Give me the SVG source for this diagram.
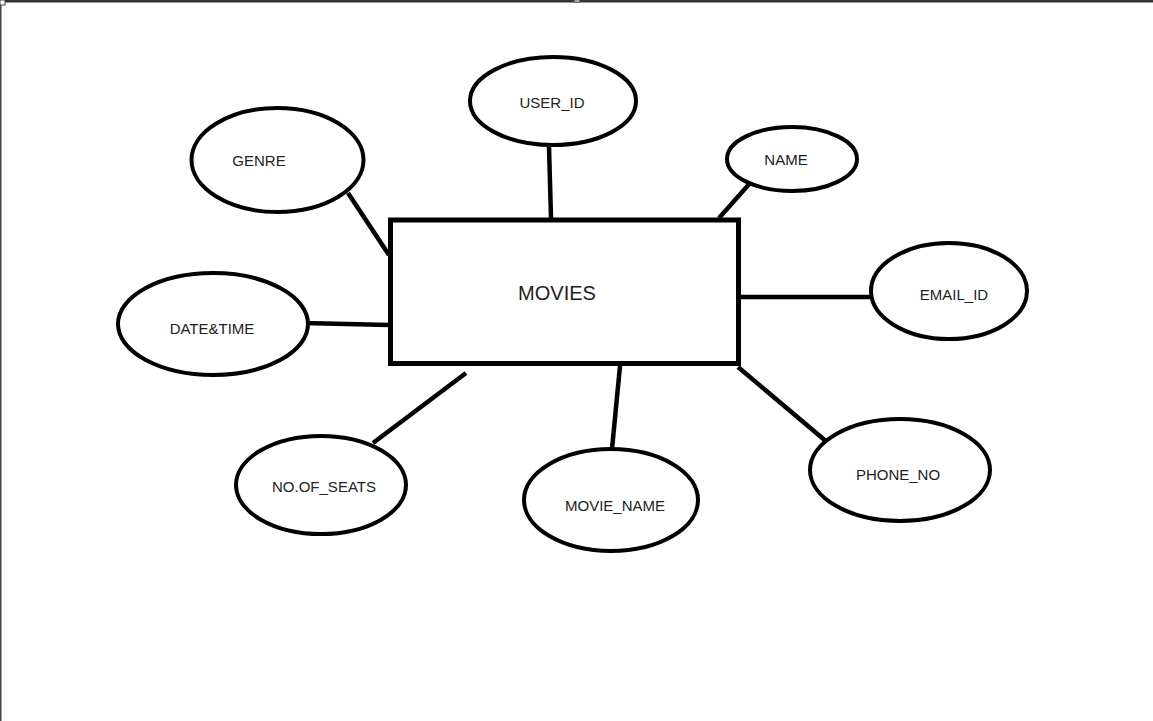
<svg xmlns="http://www.w3.org/2000/svg" width="1153" height="721" viewBox="0 0 1153 721">
<style>
.attr{fill:#fff;stroke:#000;stroke-width:4}
.lbl{font-family:"Liberation Sans",Arial,sans-serif;font-size:15px;fill:#222;text-anchor:middle}
.conn line{stroke:#000;stroke-width:4.5;stroke-linecap:butt}
</style>
<rect x="0" y="0" width="1153" height="721" fill="#fff"/>
<line x1="0" y1="1" x2="1153" y2="1" stroke="#333" stroke-width="3"/>
<line x1="0.5" y1="0" x2="0.5" y2="721" stroke="#444" stroke-width="2"/>
<rect x="0" y="0" width="5" height="5" fill="#fff" stroke="#444" stroke-width="1"/>
<rect x="574" y="0" width="6" height="2" fill="#fff" stroke="#444" stroke-width="1"/>
<g id="connectors" class="conn">
<line x1="348" y1="193" x2="389" y2="255"/>
<line x1="549" y1="147" x2="551" y2="218"/>
<line x1="751" y1="182" x2="719" y2="218"/>
<line x1="741" y1="297" x2="874" y2="297"/>
<line x1="303" y1="323" x2="389" y2="325"/>
<line x1="373" y1="443" x2="466" y2="373"/>
<line x1="620" y1="366" x2="612" y2="449"/>
<line x1="738" y1="367" x2="827" y2="442"/>
</g>
<g id="movies">
<rect x="390.5" y="220" width="348" height="143.5" fill="#fff" stroke="#000" stroke-width="5"/>
<text x="557" y="300" class="lbl" style="font-size:20px">MOVIES</text>
</g>
<g id="genre">
<ellipse cx="277.5" cy="160" rx="86" ry="52" class="attr"/>
<text x="259" y="166" class="lbl">GENRE</text>
</g>
<g id="user_id">
<ellipse cx="553" cy="101" rx="83" ry="44" class="attr"/>
<text x="552" y="108" class="lbl">USER_ID</text>
</g>
<g id="name">
<ellipse cx="792" cy="159" rx="65" ry="32" class="attr"/>
<text x="786" y="165" class="lbl">NAME</text>
</g>
<g id="email_id">
<ellipse cx="949" cy="291" rx="78" ry="48" class="attr"/>
<text x="954" y="300" class="lbl">EMAIL_ID</text>
</g>
<g id="date_time">
<ellipse cx="213" cy="324" rx="95" ry="51" class="attr"/>
<text x="212" y="334" class="lbl">DATE&amp;TIME</text>
</g>
<g id="no_of_seats">
<ellipse cx="321" cy="485" rx="85" ry="49" class="attr"/>
<text x="324" y="492" class="lbl">NO.OF_SEATS</text>
</g>
<g id="movie_name">
<ellipse cx="611" cy="500" rx="87" ry="51" class="attr"/>
<text x="615" y="511" class="lbl">MOVIE_NAME</text>
</g>
<g id="phone_no">
<ellipse cx="900" cy="470" rx="90" ry="51" class="attr"/>
<text x="898" y="480" class="lbl">PHONE_NO</text>
</g>
</svg>
